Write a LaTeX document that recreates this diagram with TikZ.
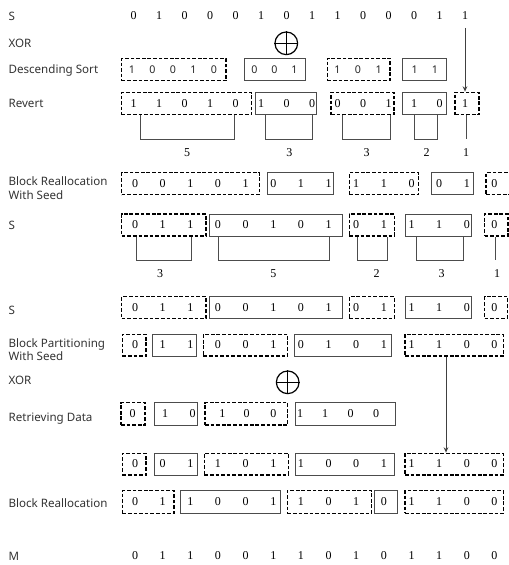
\documentclass[tikz,border=0pt]{standalone}
\usepackage{fontspec}
\setmainfont{Liberation Serif}
\setsansfont{Noto Sans}
\usetikzlibrary{arrows.meta,fit}

\newcommand\lblfont{\sffamily\fontsize{8.7}{10}\selectfont}
\newcommand\digfont{\fontsize{9}{10}\selectfont}

\begin{document}
\begin{tikzpicture}[
  x=0.75pt,y=-0.75pt,
  lbl/.style={anchor=base west,inner sep=0pt,font=\lblfont,text=black!80},
  lbltwo/.style={anchor=west,inner sep=0pt,font=\lblfont,text=black!80,align=left},
  dig/.style={inner sep=0pt,font=\digfont,text=black},
  sdig/.style={inner sep=0pt,font=\sffamily\bfseries\fontsize{8}{9}\selectfont,text=black!85},
  sbox/.style={draw=black!70,line width=0.75pt,inner sep=0pt},
  dbox/.style={draw=black,line width=1pt,dash pattern=on 2.8pt off 1.4pt,inner sep=0pt},
  brk/.style={draw=black!70,line width=0.75pt},
  arr/.style={-{Stealth[length=4pt,width=3.5pt]},line width=0.75pt,black!75},
  xorc/.style={circle,draw,line width=0.9pt,minimum size=17pt,inner sep=0pt}
]
  \useasboundingbox (0,0) rectangle (509,565);
  \clip (0,0) rectangle (509,565);

  % row labels
  \node[lbl] (l-s1) at (8.3,20) {S};
  \node[lbl] (l-xor1) at (8.3,47.3) {XOR};
  \node[lbl] (l-ds) at (8.3,73.3) {Descending Sort};
  \node[lbl] (l-rv) at (8.3,107.3) {Revert};
  \node[lbltwo] (l-brs) at (8.3,188.1) {Block Reallocation\\With Seed};
  \node[lbl] (l-s2) at (8.3,229.3) {S};
  \node[lbl] (l-s3) at (8.3,314.3) {S};
  \node[lbltwo] (l-bps) at (8.3,349.7) {Block Partitioning\\With Seed};
  \node[lbl] (l-xor2) at (8.3,384.3) {XOR};
  \node[lbl] (l-rd) at (8.3,421) {Retrieving Data};
  \node[lbl] (l-br) at (8.3,507.6) {Block Reallocation};
  \node[lbl] (l-m) at (8.3,560) {M};

  % S
  \foreach \d [count=\k from 0] in {0,1,0,0,0,1,0,1,1,0,0,0,1,1}
    \node[dig] (s1-\k) at (133.5+25.5*\k,15.7) {\d};

  % XOR
  \node[xorc] (x1) at (286.3,43.3) {};
  \draw[line width=0.9pt] (x1.north) -- (x1.south) (x1.west) -- (x1.east);

  % descending sort
  \node[dbox,fit={(121.7,58.3)(226,80.7)}] (ds1) {};
  \node[sbox,fit={(244,58.3)(305.5,80.7)}] (ds2) {};
  \node[dbox,fit={(327.3,58.3)(390,80.7)}] (ds3) {};
  \node[sbox,fit={(402.3,58.3)(446,80.7)}] (ds4) {};
  \foreach \d/\x [count=\k] in {1/132,0/152.5,0/173,1/193.5,0/214,0/254.3,0/274.3,1/294.3,1/337.3,0/358,1/378.7,1/414.7,1/435}
    \node[sdig] (ds-\k) at (\x,69.5) {\d};

  % revert
  \node[dbox,fit={(121.7,92.3)(251.7,114.7)}] (rv1) {};
  \node[sbox,fit={(255.7,92.3)(316.7,114.7)}] (rv2) {};
  \node[dbox,fit={(331,92.3)(394,114.7)}] (rv3) {};
  \node[sbox,fit={(402.3,92.3)(446,114.7)}] (rv4) {};
  \node[dbox,fit={(455,92.3)(479,114.7)}] (rv5) {};
  \foreach \d [count=\k from 0] in {1,1,0,1,0,1,0,0,0,0,1,1,0,1}
    \node[dig] (rv-\k) at (133.5+25.5*\k,103.5) {\d};
  \draw[arr,shorten <=6pt] (s1-13.south) -- (s1-13.south |- rv5.north);

  % block lengths
  \node[dig] (n1) at (187,152.3) {5};
  \node[dig] (n2) at (289.3,152.3) {3};
  \node[dig] (n3) at (366.7,152.3) {3};
  \node[dig] (n4) at (426.7,152.3) {2};
  \node[dig] (n5) at (466,152.3) {1};
  \draw[brk] (rv1.south -| 140.7,0) |- (234.7,139.3) -- (rv1.south -| 234.7,0);
  \draw[brk] (rv2.south -| 265,0) |- (312.7,139.3) -- (rv2.south -| 312.7,0);
  \draw[brk] (rv3.south -| 342.7,0) |- (390,139.3) -- (rv3.south -| 390,0);
  \draw[brk] (rv4.south -| 414.3,0) |- (437.7,139.3) -- (rv4.south -| 437.7,0);
  \draw[brk] (rv5.south -| 466,0) -- (466,139.3);

  % block reallocation with seed
  \node[dbox,fit={(121.7,172.7)(259.3,194.7)}] (bs1) {};
  \node[sbox,fit={(267.3,172.7)(333.3,194.7)}] (bs2) {};
  \node[dbox,fit={(349.3,172.7)(418.7,194.7)}] (bs3) {};
  \node[sbox,fit={(431.7,172.7)(473.3,194.7)}] (bs4) {};
  \node[dbox,fit={(486,172.7)(511,194.7)}] (bs5) {};
  \foreach \d [count=\k from 0] in {0,0,1,0,1,0,1,1,1,1,0,0,1,0}
    \node[dig] (bs-\k) at (135+27.65*\k,183.7) {\d};

  % S again
  \node[dbox,fit={(121.7,214)(206,236)}] (sa1) {};
  \node[sbox,fit={(209.3,214)(342.3,236)}] (sa2) {};
  \node[dbox,fit={(349.3,214)(394.3,236)}] (sa3) {};
  \node[sbox,fit={(405.7,214)(471.3,236)}] (sa4) {};
  \node[dbox,fit={(484.5,214)(508,236)}] (sa5) {};
  \foreach \d [count=\k from 0] in {0,1,1,0,0,1,0,1,0,1,1,1,0,0}
    \node[dig] (sa-\k) at (135+27.65*\k,225) {\d};

  \node[dig] (m1) at (160,273.3) {3};
  \node[dig] (m2) at (273.3,273.3) {5};
  \node[dig] (m3) at (376.7,273.3) {2};
  \node[dig] (m4) at (441.7,273.3) {3};
  \node[dig] (m5) at (497,273.3) {1};
  \draw[brk] (sa1.south -| 136.7,0) |- (191,260) -- (sa1.south -| 191,0);
  \draw[brk] (sa2.south -| 218.3,0) |- (329.3,260) -- (sa2.south -| 329.3,0);
  \draw[brk] (sa3.south -| 357.7,0) |- (387.3,260) -- (sa3.south -| 387.3,0);
  \draw[brk] (sa4.south -| 416.7,0) |- (463.3,260) -- (sa4.south -| 463.3,0);
  \draw[brk] (sa5.south -| 495.7,0) -- (495.7,260);

  % S, third time
  \node[dbox,fit={(121.7,296.7)(206,318.3)}] (sb1) {};
  \node[sbox,fit={(209.3,296.7)(342.3,318.3)}] (sb2) {};
  \node[dbox,fit={(349.3,296.7)(394.3,318.3)}] (sb3) {};
  \node[sbox,fit={(405.7,296.7)(471.3,318.3)}] (sb4) {};
  \node[dbox,fit={(484.5,296.7)(507.5,318.3)}] (sb5) {};
  \foreach \d [count=\k from 0] in {0,1,1,0,0,1,0,1,0,1,1,1,0,0}
    \node[dig] (sb-\k) at (135+27.65*\k,307.5) {\d};

  % block partitioning with seed
  \node[dbox,fit={(122.3,334.3)(146,356)}] (bp1) {};
  \node[sbox,fit={(152.7,334.3)(196.7,356)}] (bp2) {};
  \node[dbox,fit={(203.3,334.3)(287.7,356)}] (bp3) {};
  \node[sbox,fit={(294,334.3)(391.7,356)}] (bp4) {};
  \node[dbox,fit={(405,334.3)(503.3,356)}] (bp5) {};
  \foreach \d [count=\k from 0] in {0,1,1,0,0,1,0,1,0,1,1,1,0,0}
    \node[dig] (bp-\k) at (135+27.65*\k,345) {\d};

  % XOR
  \node[xorc] (x2) at (287.7,382.3) {};
  \draw[line width=0.9pt] (x2.north) -- (x2.south) (x2.west) -- (x2.east);

  % retrieving data
  \node[dbox,fit={(121,402.7)(145,425)}] (rd1) {};
  \node[sbox,fit={(154.3,402.7)(197.7,425)}] (rd2) {};
  \node[dbox,fit={(205,402.7)(287.7,425)}] (rd3) {};
  \node[sbox,fit={(295,402.7)(395.5,425)}] (rd4) {};
  \foreach \d/\x [count=\k] in {0/132.7,1/165,0/192.7,1/222.3,0/246.7,0/273.3,1/300,1/325,0/350.5,0/376}
    \node[dig] (rd-\k) at (\x,414) {\d};

  % merged
  \node[dbox,fit={(122.3,453.3)(146,475)}] (un1) {};
  \node[sbox,fit={(154.3,453.3)(197.3,475)}] (un2) {};
  \node[dbox,fit={(204.3,453.3)(288.3,475)}] (un3) {};
  \node[sbox,fit={(295,453.3)(394.3,475)}] (un4) {};
  \node[dbox,fit={(405,453.3)(503.3,475)}] (un5) {};
  \foreach \d [count=\k from 0] in {0,0,1,1,0,1,1,0,0,1,1,1,0,0}
    \node[dig] (un-\k) at (135+27.65*\k,464) {\d};
  \draw[arr] (bp5.south -| 446,0) -- (un5.north -| 446,0);

  % block reallocation
  \node[dbox,fit={(122.3,490.7)(174,513.3)}] (br1) {};
  \node[sbox,fit={(180.7,490.7)(280.7,513.3)}] (br2) {};
  \node[dbox,fit={(287.3,490.7)(371.7,513.3)}] (br3) {};
  \node[sbox,fit={(374,490.7)(397.7,513.3)}] (br4) {};
  \node[dbox,fit={(405,490.7)(503.3,513.3)}] (br5) {};
  \foreach \d [count=\k from 0] in {0,1,1,0,0,1,1,0,1,0,1,1,0,0}
    \node[dig] (br-\k) at (135+27.65*\k,502) {\d};

  % M
  \foreach \d [count=\k from 0] in {0,1,1,0,0,1,1,0,1,0,1,1,0,0}
    \node[dig] (m-\k) at (135+27.65*\k,555.7) {\d};
\end{tikzpicture}
\end{document}
